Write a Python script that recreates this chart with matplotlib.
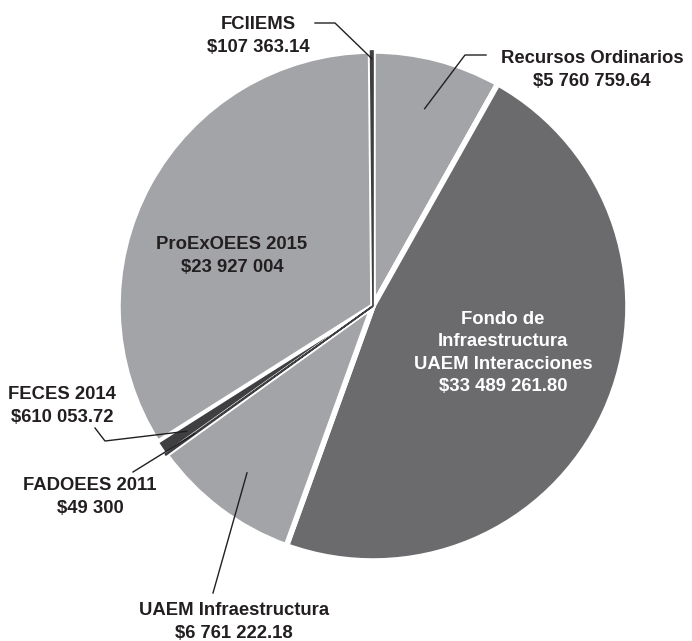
import numpy as np
import matplotlib.pyplot as plt

# Datos
fuentes = ["Recursos Ordinarios", "Fondo de\nInfraestructura\nUAEM Interacciones",
           "UAEM Infraestructura", "FADOEES 2011", "FECES 2014",
           "ProExOEES 2015", "FCIIEMS"]
montos = [5760759.64, 33489261.80, 6761222.18, 49300, 610053.72, 23927004, 107363.14]
etiquetas_monto = ["$5 760 759.64", "$33 489 261.80", "$6 761 222.18", "$49 300",
                   "$610 053.72", "$23 927 004", "$107 363.14"]

claro = "#a3a4a7"
medio = "#6b6b6e"
oscuro = "#3f3f41"
colores = [claro, medio, claro, oscuro, oscuro, claro, oscuro]
texto = "#231f20"

W, H = 692, 641
fig = plt.figure(figsize=(W / 100, H / 100), dpi=100)
ax = fig.add_axes([0, 0, 1, 1])

cx, cy, r = 373, H - 306, 255
wedges, _ = ax.pie(montos, colors=colores, startangle=90, counterclock=False,
                   center=(cx, cy), radius=r, frame=True,
                   wedgeprops=dict(edgecolor="white", linewidth=4))
# rebanadas pequeñas por encima, con borde más fino
wedges[4].set_linewidth(2)
wedges[4].set_zorder(5)
for i in (3, 6):
    wedges[i].set_edgecolor(oscuro)
    wedges[i].set_linewidth(1.2)
    wedges[i].set_zorder(6)

ax.set_xlim(0, W)
ax.set_ylim(0, H)
ax.set_aspect("equal")
ax.axis("off")

fuente = ["Liberation Sans", "DejaVu Sans"]
fs = 13.3


def punto(w, frac):
    ang = np.deg2rad((w.theta1 + w.theta2) / 2)
    return cx + r * frac * np.cos(ang), cy + r * frac * np.sin(ang)


def etiqueta(x, y, nombre, monto, color=texto):
    ax.text(x, H - y, nombre + "\n" + monto, ha="center", va="center",
            fontsize=fs, fontweight="bold", color=color, family=fuente,
            linespacing=1.4)


lw = 1.0
# Recursos Ordinarios
px, py = punto(wedges[0], 0.8)
ax.plot([px, 465, 486], [py, H - 55, H - 55], color=texto, lw=lw, zorder=7)
etiqueta(592, 70, fuentes[0], etiquetas_monto[0])

# Fondo (dentro)
etiqueta(503, 353, fuentes[1], etiquetas_monto[1], color="white")

# UAEM Infraestructura
px, py = punto(wedges[2], 0.82)
ax.plot([px, 213], [py, H - 593], color=texto, lw=lw, zorder=7)
etiqueta(234, 622, fuentes[2], etiquetas_monto[2])

# FADOEES 2011
px, py = punto(wedges[3], 0.86)
ax.plot([px, 133], [py, H - 472], color=texto, lw=lw, zorder=7)
etiqueta(90, 497, fuentes[3], etiquetas_monto[3])

# FECES 2014
px, py = punto(wedges[4], 0.88)
ax.plot([px, 105, 95], [py, H - 441, H - 428], color=texto, lw=lw, zorder=7)
etiqueta(62, 406, fuentes[4], etiquetas_monto[4])

# ProExOEES 2015 (dentro)
etiqueta(232, 256, fuentes[5], etiquetas_monto[5])

# FCIIEMS
px, py = punto(wedges[6], 0.97)
ax.plot([px, 335, 315], [py, H - 23, H - 23], color=texto, lw=lw, zorder=7)
etiqueta(258, 36, fuentes[6], etiquetas_monto[6])

fig.savefig("out.png", dpi=100, facecolor="white")
